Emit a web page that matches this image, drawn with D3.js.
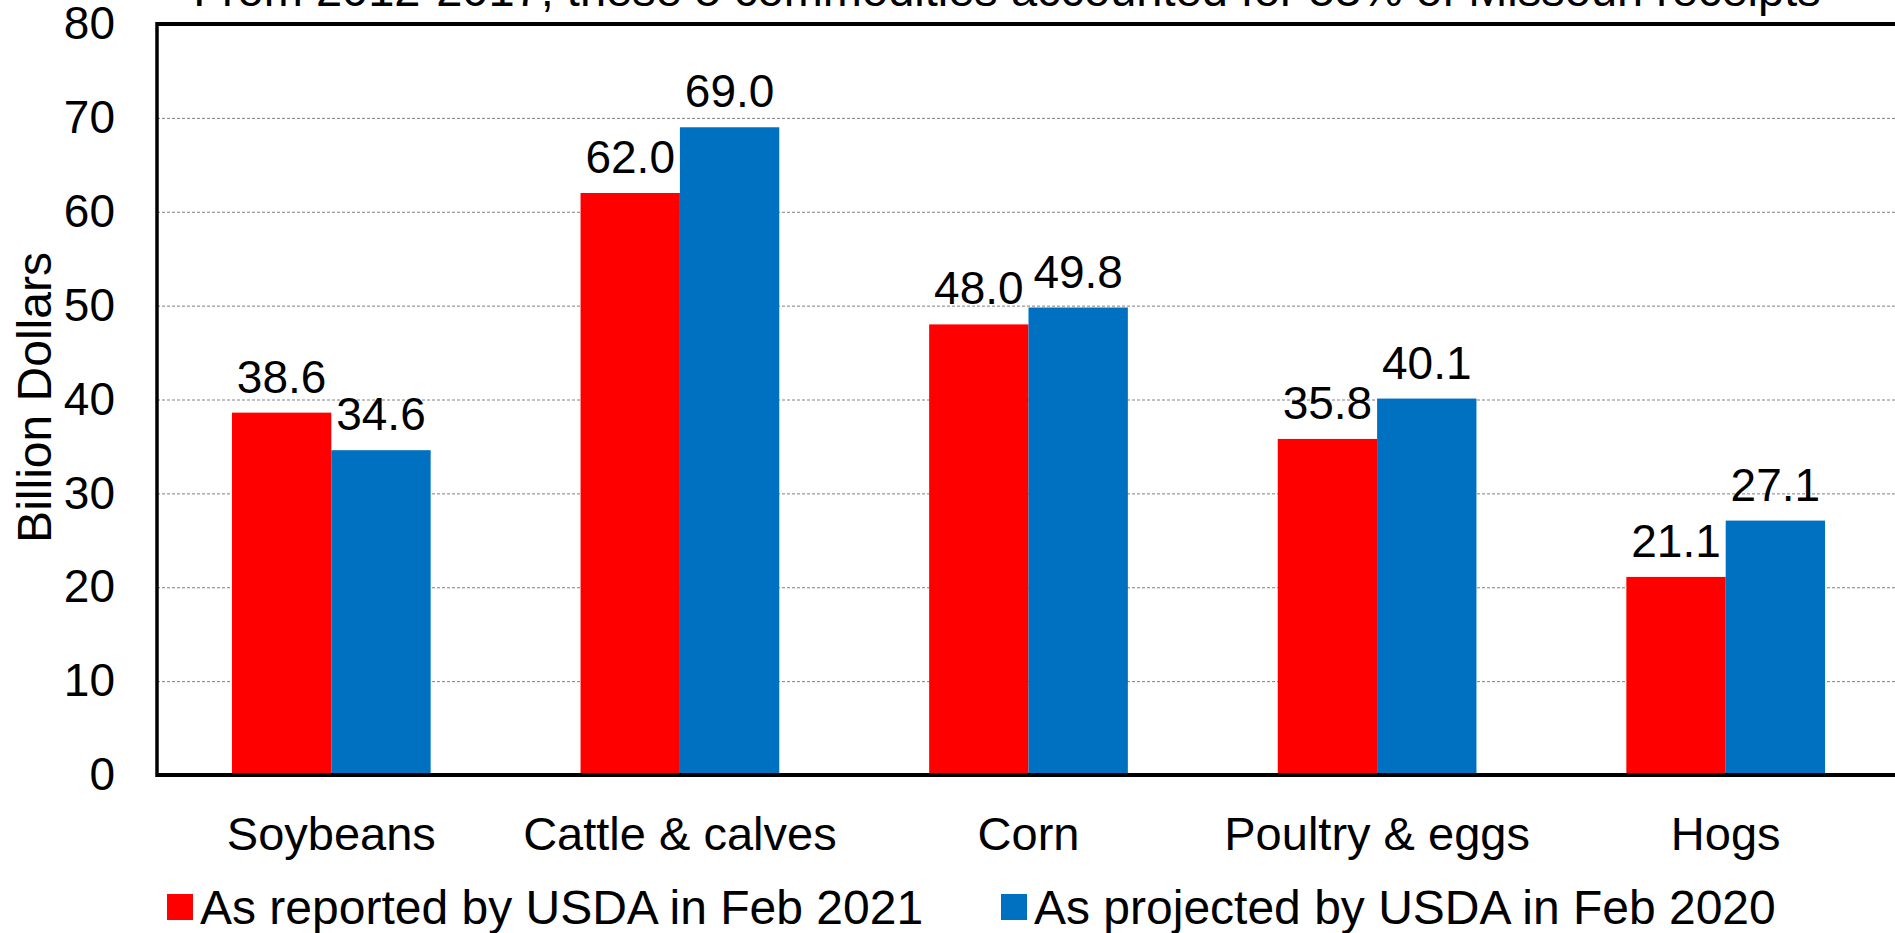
<!DOCTYPE html>
<html>
<head>
<meta charset="utf-8">
<script src="https://cdn.jsdelivr.net/npm/d3@7"></script>
<style>
  html, body { margin: 0; padding: 0; background: #fff; }
  svg text { font-family: "Liberation Sans", Arial, sans-serif; fill: #000; }
</style>
</head>
<body>
<div id="vis"></div>
<script>
// chart values
var categories = ['Soybeans', 'Cattle & calves', 'Corn', 'Poultry & eggs', 'Hogs'];
var seriesNames = ['As reported by USDA in Feb 2021', 'As projected by USDA in Feb 2020'];
var reported2021 = [38.6, 62.0, 48.0, 35.8, 21.1];
var projected2020 = [34.6, 69.0, 49.8, 40.1, 27.1];
var yTicks = [0, 10, 20, 30, 40, 50, 60, 70, 80];
var titleText = 'From 2012-2017, these 5 commodities accounted for 53% of Missouri receipts';

var seriesColors = ['#ff0000', '#0070c0'];

// size and margins
var width = 1895;
var height = 933;
var margin = { top: 24, left: 157, bottom: 158, right: -5 };

var svg = d3.select('#vis').append('svg')
  .attr('width', width)
  .attr('height', height);

// scales
var x0 = d3.scaleBand()
  .domain(categories)
  .range([margin.left, width - margin.right])
  .paddingInner(0.43)
  .paddingOuter(0.215);

var x1 = d3.scaleBand()
  .domain(seriesNames)
  .range([0, x0.bandwidth()]);

var y = d3.scaleLinear()
  .domain([0, 80])
  .range([height - margin.bottom, margin.top]);

// rows for grouped bars
var rows = categories.map(function (c, i) {
  return { cat: c, values: [reported2021[i], projected2020[i]] };
});

// gridlines
svg.append('g')
  .selectAll('line')
  .data(yTicks.filter(function (t) { return t > 0 && t < 80; }))
  .enter().append('line')
  .attr('x1', margin.left)
  .attr('x2', width)
  .attr('y1', function (d) { return y(d) + 0.5; })
  .attr('y2', function (d) { return y(d) + 0.5; })
  .attr('stroke', '#808080')
  .attr('stroke-width', 1)
  .attr('stroke-dasharray', '3,2');

// bars
var groups = svg.append('g')
  .selectAll('g')
  .data(rows)
  .enter().append('g')
  .attr('transform', function (d) { return 'translate(' + x0(d.cat) + ',0)'; });

groups.selectAll('rect')
  .data(function (d) { return d.values.map(function (v, j) { return { s: seriesNames[j], v: v, j: j }; }); })
  .enter().append('rect')
  .attr('x', function (d) { return x1(d.s); })
  .attr('width', x1.bandwidth())
  .attr('y', function (d) { return y(d.v); })
  .attr('height', function (d) { return y(0) - y(d.v); })
  .attr('fill', function (d) { return seriesColors[d.j]; });

// value labels
groups.selectAll('text.val')
  .data(function (d) { return d.values.map(function (v, j) { return { s: seriesNames[j], v: v }; }); })
  .enter().append('text')
  .attr('class', 'val')
  .attr('x', function (d) { return x1(d.s) + x1.bandwidth() / 2; })
  .attr('y', function (d) { return y(d.v) - 20; })
  .attr('text-anchor', 'middle')
  .style('font-size', '46px')
  .text(function (d) { return d3.format('.1f')(d.v); });

// axis frame
svg.append('line')
  .attr('x1', margin.left).attr('x2', width)
  .attr('y1', y(80)).attr('y2', y(80))
  .attr('stroke', '#000').attr('stroke-width', 4);
svg.append('line')
  .attr('x1', margin.left).attr('x2', width)
  .attr('y1', y(0)).attr('y2', y(0))
  .attr('stroke', '#000').attr('stroke-width', 4);
svg.append('line')
  .attr('x1', margin.left).attr('x2', margin.left)
  .attr('y1', y(80) - 2).attr('y2', y(0) + 2)
  .attr('stroke', '#000').attr('stroke-width', 3.5);

// y axis labels
var yAxis = d3.axisLeft(y).tickValues(yTicks).tickSize(0).tickPadding(42);
var yg = svg.append('g')
  .attr('transform', 'translate(' + margin.left + ',0)')
  .call(yAxis);
yg.select('.domain').remove();
yg.selectAll('text')
  .style('font-size', '46px')
  .style('font-family', '"Liberation Sans", Arial, sans-serif')
  .attr('fill', '#000');

// x axis labels
var xAxis = d3.axisBottom(x0).tickSize(0).tickPadding(0);
var xg = svg.append('g')
  .attr('transform', 'translate(0,' + y(0) + ')')
  .call(xAxis);
xg.select('.domain').remove();
xg.selectAll('text')
  .attr('dy', null)
  .attr('y', 75)
  .style('font-size', '47px')
  .style('font-family', '"Liberation Sans", Arial, sans-serif')
  .attr('fill', '#000');

// y title
svg.append('text')
  .attr('transform', 'translate(51,' + (y(40) - 2) + ') rotate(-90)')
  .attr('text-anchor', 'middle')
  .style('font-size', '48px')
  .text('Billion Dollars');

// title (partly cut off at top)
svg.append('text')
  .attr('x', 1007)
  .attr('y', 6)
  .attr('text-anchor', 'middle')
  .style('font-size', '47px')
  .text(titleText);

// legend
var legendX = [167, 1001];
var legend = svg.append('g')
  .selectAll('g')
  .data(seriesNames)
  .enter().append('g')
  .attr('transform', function (d, i) { return 'translate(' + legendX[i] + ',894)'; });
legend.append('rect')
  .attr('width', 26).attr('height', 26)
  .attr('fill', function (d, i) { return seriesColors[i]; });
legend.append('text')
  .attr('x', 33)
  .attr('y', 30)
  .style('font-size', '48px')
  .text(function (d) { return d; });
</script>
</body>
</html>
